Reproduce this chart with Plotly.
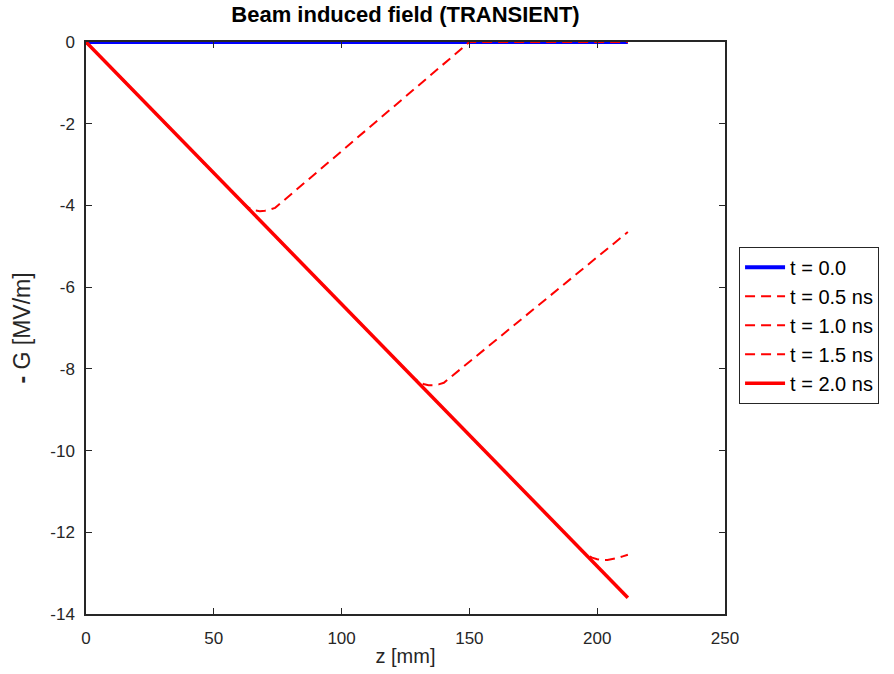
import plotly.graph_objects as go

# Data (z in mm, -G in MV/m)
z_t00 = [0, 212]
g_t00 = [0, 0]

z_t05 = [0, 62, 64, 66, 68, 70, 72, 74, 150, 212]
g_t05 = [0, -3.98, -4.07, -4.12, -4.14, -4.13, -4.10, -4.06, 0, 0]

z_t10 = [0, 128, 130, 132, 134, 136, 138, 140, 212]
g_t10 = [0, -8.21, -8.31, -8.37, -8.40, -8.40, -8.38, -8.34, -4.65]

z_t15 = [0, 192, 194, 196, 198, 200, 202, 204, 206, 208, 210, 212]
g_t15 = [0, -12.32, -12.45, -12.55, -12.62, -12.66, -12.68, -12.68, -12.66, -12.63, -12.59, -12.55]

z_t20 = [0, 212]
g_t20 = [0, -13.6]

x_ticks = [0, 50, 100, 150, 200, 250]
x_tick_labels = ["0", "50", "100", "150", "200", "250"]
y_ticks = [0, -2, -4, -6, -8, -10, -12, -14]
y_tick_labels = ["0", "-2", "-4", "-6", "-8", "-10", "-12", "-14"]

series = [
    ("t = 0.0", z_t00, g_t00, "#0000ff", 4.0, "solid"),
    ("t = 0.5 ns", z_t05, g_t05, "#ff0000", 2.0, "10px,6px"),
    ("t = 1.0 ns", z_t10, g_t10, "#ff0000", 2.0, "10px,6px"),
    ("t = 1.5 ns", z_t15, g_t15, "#ff0000", 2.0, "10px,6px"),
    ("t = 2.0 ns", z_t20, g_t20, "#ff0000", 3.5, "solid"),
]

fig = go.Figure()
for i, (name, zx, gy, col, w, dash) in enumerate(series):
    fig.add_trace(go.Scatter(
        x=zx, y=gy, mode="lines", name=name,
        line=dict(color=col, width=w, dash=dash),
        cliponaxis=False,
    ))

font_family = "Liberation Sans, Arial, sans-serif"
axis_common = dict(
    showline=True, linecolor="#262626", linewidth=1.5, mirror="ticks",
    ticks="inside", ticklen=6, tickwidth=1.2, tickcolor="#262626",
    showgrid=False, zeroline=False, automargin=False,
    tickfont=dict(family=font_family, size=17, color="#262626"),
)

fig.update_layout(
    width=894, height=674,
    margin=dict(l=86, r=169, t=42, b=60, autoexpand=False),
    paper_bgcolor="white", plot_bgcolor="white",
    title=dict(text="<b>Beam induced field (TRANSIENT)</b>",
               x=(86 + 725) / 2 / 894, xanchor="center",
               y=1 - 14 / 674, yanchor="middle",
               font=dict(family=font_family, size=22, color="black")),
    xaxis=dict(range=[0, 250], tickvals=x_ticks, ticktext=x_tick_labels,
               ticklabelstandoff=8,
               title=dict(text="z [mm]", standoff=2,
                          font=dict(family=font_family, size=20, color="#262626")),
               **axis_common),
    yaxis=dict(range=[-14, 0], tickvals=y_ticks, ticktext=y_tick_labels,
               ticklabelstandoff=6,
               title=dict(text="<b>-</b> G [MV/m]", standoff=13,
                          font=dict(family=font_family, size=23, color="#262626")),
               **axis_common),
    legend=dict(x=1.022, xanchor="left", y=0.505, yanchor="middle",
                bordercolor="#262626", borderwidth=1, bgcolor="white",
                font=dict(family=font_family, size=20, color="black"),
                tracegroupgap=0, itemwidth=40),
    showlegend=True,
)

fig.write_html("out.html")
